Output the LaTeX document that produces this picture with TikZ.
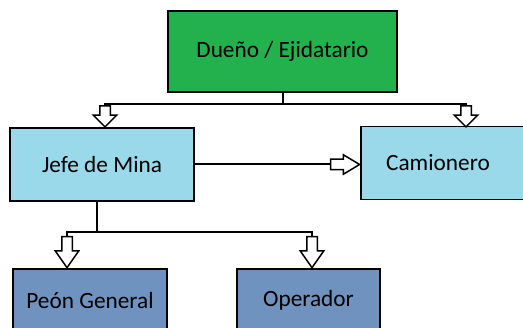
\documentclass[tikz,border=0pt]{standalone}
\usepackage{fontspec}
\setmainfont{Carlito}
\usetikzlibrary{shapes.arrows}

\definecolor{dgreen}{HTML}{22B14C}
\definecolor{lblue}{HTML}{99D9EA}
\definecolor{sblue}{HTML}{7092BE}

\tikzset{
  box/.style={draw, line width=1.8pt, inner sep=0pt, font=\fontsize{23.3}{26}\selectfont},
  blk/.style={single arrow, draw, fill=white, line width=1.5pt, inner sep=4.5pt,
    single arrow head extend=6.5pt, anchor=tip},
}

\begin{document}
\begin{tikzpicture}[x=1pt,y=-1pt,line width=2pt]
\useasboundingbox (0,0) rectangle (523,328);
\clip (0,0) rectangle (523,328);
\node[box, fill=dgreen, minimum width=229pt, minimum height=81pt] (D) at (282.5,51.5) {Dueño / Ejidatario};
\node[box, fill=lblue, minimum width=184pt, minimum height=73pt] (J) at (102,164.5) {Jefe de Mina};
\node[box, fill=lblue, minimum width=184pt, minimum height=73pt] (C) at (453,163) {\hspace*{-30pt}Camionero};
\node[box, fill=sblue, minimum width=154pt, minimum height=62pt] (P) at (90,300) {Peón General};
\node[box, fill=sblue, minimum width=143pt, minimum height=62pt] (O) at (308.5,300) {Operador};
\coordinate (bus) at (282.5,104);
\coordinate (jbus) at (97,232);
\node[blk, shape border rotate=270, minimum height=21pt, single arrow tip angle=90] (a1) at (105,128) {};
\node[blk, shape border rotate=270, minimum height=21pt, single arrow tip angle=90] (a2) at (466,128) {};
\node[blk, shape border rotate=0, minimum height=29pt, single arrow head extend=4.5pt, single arrow tip angle=62] (a3) at (361,164.5) {};
\node[blk, shape border rotate=270, minimum height=31pt, single arrow tip angle=70] (a4) at (67,269) {};
\node[blk, shape border rotate=270, minimum height=31pt, single arrow tip angle=70] (a5) at (312,269) {};
\draw (D.south) -- (bus) -| (a1.tail);
\draw (bus) -| (a2.tail);
\draw (J.east) -- (a3.tail);
\draw (jbus |- J.south) -- (jbus) -| (a4.tail);
\draw (jbus) -| (a5.tail);
\end{tikzpicture}
\end{document}
